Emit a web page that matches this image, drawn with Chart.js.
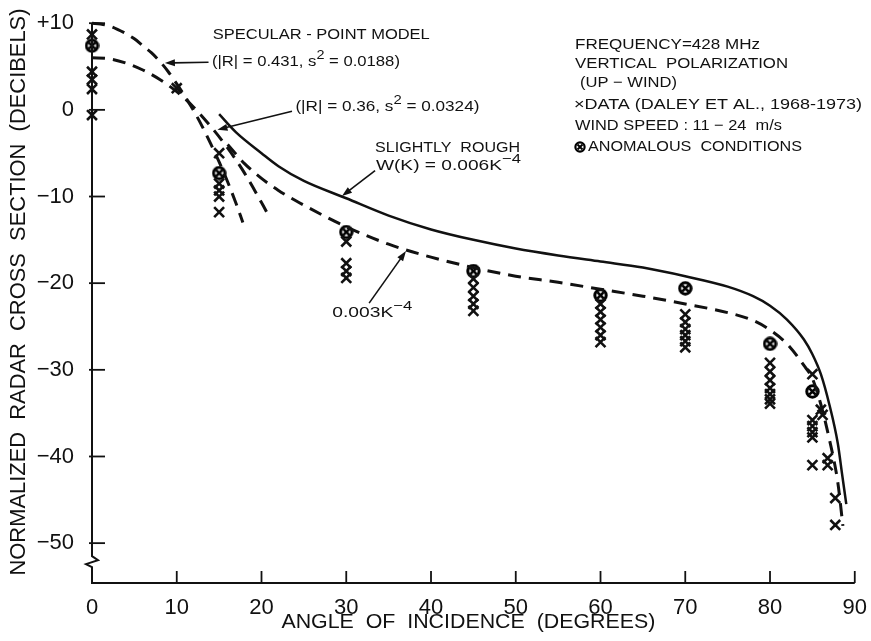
<!DOCTYPE html>
<html>
<head>
<meta charset="utf-8">
<script src="https://cdn.jsdelivr.net/npm/chart.js@4.4.1/dist/chart.umd.min.js"></script>
<style>
  html, body { margin: 0; padding: 0; background: #fff; }
  #wrap { width: 871px; height: 641px; position: relative; }
</style>
</head>
<body>
<div id="wrap"><canvas id="radarChart"></canvas></div>
<script>
const FONT = '"Liberation Sans", Arial, sans-serif';
const INK = '#111';

// tick labels
const xTicks = [0, 10, 20, 30, 40, 50, 60, 70, 80, 90];
const yTicks = [10, 0, -10, -20, -30, -40, -50];

// specular-point model, |R| = 0.431, s^2 = 0.0188
const specA_deg = [0, 1, 2, 3, 4, 5, 6, 7, 8, 9, 10, 11, 12, 13, 14, 15, 16, 17, 17.8];
const specA_db  = [10, 9.9, 9.7, 9.3, 8.8, 8.2, 7.4, 6.6, 5.6, 4.4, 3.0, 1.5, -0.1, -1.9, -3.9, -6.0, -8.3, -10.8, -13.0];

// specular-point model, |R| = 0.36, s^2 = 0.0324
const specB_deg = [0, 2, 4, 6, 8, 10, 12, 14, 16, 18, 20, 21];
const specB_db  = [6.0, 5.9, 5.4, 4.6, 3.5, 2.1, 0.3, -1.9, -4.4, -7.3, -10.7, -12.5];

// slightly rough, W(K) = 0.006 K^-4 (solid)
const rough6_deg = [15, 17, 20, 22, 25, 30, 35, 40, 45, 50, 55, 60, 65, 70, 75, 78, 80, 82, 84, 85, 86, 87, 88, 88.5, 89];
const rough6_db  = [-0.5, -2.6, -5.0, -6.5, -8.2, -10.2, -12.2, -13.8, -15.0, -16.0, -16.8, -17.5, -18.2, -19.2, -20.4, -21.5, -22.6, -24.2, -26.5, -28.2, -30.5, -34.0, -38.5, -42.0, -45.5];

// 0.003 K^-4 (dashed)
const rough3_deg = [16, 18, 20, 22, 25, 30, 35, 40, 45, 50, 55, 60, 65, 70, 75, 78, 80, 82, 84, 85, 86, 87, 88, 88.6];
const rough3_db  = [-4.0, -6.2, -7.9, -9.3, -11.0, -13.5, -15.5, -17.0, -18.2, -19.2, -19.9, -20.7, -21.5, -22.4, -23.4, -24.3, -25.4, -27.0, -29.5, -31.0, -34.0, -38.0, -43.0, -48.0];

// measured data (Daley et al., 1968-1973)
const data_deg = [0, 0, 0, 0, 0, 10, 15, 15, 15, 15, 15, 30, 30, 30, 30,
  45, 45, 45, 45, 45, 60, 60, 60, 60, 60, 60, 70, 70, 70, 70, 70, 70,
  80, 80, 80, 80, 80, 80, 80, 85, 85, 85, 85, 85, 85, 86, 86.2, 86.8, 86.8, 87.7, 87.7];
const data_db = [8.7, 4.4, 3.5, 2.4, -0.6, 2.5, -5.0, -8.5, -9.3, -10.0, -11.8, -15.2, -17.7, -18.6, -19.4,
  -19.5, -20.5, -21.5, -22.4, -23.2, -22.4, -23.3, -24.2, -25.1, -26.0, -26.8, -23.6, -24.5, -25.3, -26.0, -26.7, -27.4,
  -29.2, -30.2, -31.2, -32.1, -32.8, -33.4, -33.9, -30.5, -35.8, -36.5, -37.2, -37.8, -41.0, -34.6, -35.2, -40.2, -41.0, -44.8, -47.9];

// anomalous conditions
const anom_deg = [0, 15, 30, 45, 60, 70, 80, 85];
const anom_db  = [7.4, -7.3, -14.1, -18.6, -21.4, -20.6, -27.0, -32.5];

const pts = (xs, ys) => xs.map((x, i) => ({ x, y: ys[i] }));

// circle-with-cross marker
function makeAnomIcon(size, lw) {
  const c = document.createElement('canvas');
  c.width = size; c.height = size;
  const g = c.getContext('2d');
  const m = size / 2, r = size / 2 - lw / 2 - 0.3;
  g.strokeStyle = '#000'; g.lineWidth = lw;
  g.beginPath(); g.arc(m, m, r, 0, Math.PI * 2); g.stroke();
  const d = r * 0.55;
  g.lineWidth = lw * 0.9;
  g.beginPath();
  g.moveTo(m - d, m - d); g.lineTo(m + d, m + d);
  g.moveTo(m + d, m - d); g.lineTo(m - d, m + d);
  g.stroke();
  return c;
}
const anomIcon = makeAnomIcon(15, 3);
const anomSmall = makeAnomIcon(12, 2.2);

function curve(label, xs, ys, dashed, width) {
  return {
    type: 'line', label, data: pts(xs, ys),
    borderColor: INK, borderWidth: width, borderDash: dashed ? [13, 8] : [],
    pointRadius: 0, fill: false, cubicInterpolationMode: 'monotone', clip: false
  };
}

// rich text: parts starting with '^' are superscripts; squeezed to width if given
function drawRich(ctx, parts, x, y, size, width, align) {
  const pieces = parts.map(p => p.startsWith('^')
    ? { t: p.slice(1), f: Math.round(size * 0.85), dy: -size * 0.42 }
    : { t: p, f: size, dy: 0 });
  let total = 0;
  pieces.forEach(p => { ctx.font = p.f + 'px ' + FONT; p.w = ctx.measureText(p.t).width; total += p.w; });
  const k = width ? width / total : 1;
  ctx.save();
  ctx.translate(x, y);
  ctx.scale(k, 1);
  let cx = align === 'center' ? -total / 2 : 0;
  ctx.fillStyle = INK;
  ctx.textBaseline = 'middle';
  ctx.textAlign = 'left';
  pieces.forEach(p => { ctx.font = p.f + 'px ' + FONT; ctx.fillText(p.t, cx, p.dy); cx += p.w; });
  ctx.restore();
}

function arrow(ctx, x1, y1, x2, y2) {
  const a = Math.atan2(y2 - y1, x2 - x1), L = 10, W = 3.5;
  ctx.save();
  ctx.strokeStyle = INK; ctx.fillStyle = INK; ctx.lineWidth = 1.6;
  ctx.beginPath(); ctx.moveTo(x1, y1); ctx.lineTo(x2 - L * 0.8 * Math.cos(a), y2 - L * 0.8 * Math.sin(a)); ctx.stroke();
  ctx.beginPath();
  ctx.moveTo(x2, y2);
  ctx.lineTo(x2 - L * Math.cos(a) + W * Math.sin(a), y2 - L * Math.sin(a) - W * Math.cos(a));
  ctx.lineTo(x2 - L * Math.cos(a) - W * Math.sin(a), y2 - L * Math.sin(a) + W * Math.cos(a));
  ctx.closePath(); ctx.fill();
  ctx.restore();
}

// annotations in data units
const notes = [
  { parts: ['SPECULAR - POINT MODEL'], x: 14.25, y: 8.6, w: 217 },
  { parts: ['(|R| = 0.431, s', '^2', ' = 0.0188)'], x: 14.15, y: 5.5, w: 188 },
  { parts: ['(|R| = 0.36, s', '^2', ' = 0.0324)'], x: 24.0, y: 0.35, w: 184 },
  { parts: ['SLIGHTLY  ROUGH'], x: 33.4, y: -4.4, w: 145 },
  { parts: ['W(K) = 0.006K', '^\u22124'], x: 33.5, y: -6.5, w: 145 },
  { parts: ['0.003K', '^\u22124'], x: 28.35, y: -23.4, w: 80 }
];
const arrows = [
  [13.75, 5.5, 8.6, 5.4],
  [23.6, -0.15, 14.8, -2.3],
  [33.4, -7.0, 29.5, -9.95],
  [32.7, -22.3, 37.05, -16.3]
];
const legendLines = [
  { parts: ['FREQUENCY=428 MHz'], x: 575, y: 45, w: 185 },
  { parts: ['VERTICAL  POLARIZATION'], x: 575, y: 64, w: 213 },
  { parts: ['(UP \u2212 WIND)'], x: 580, y: 83, w: 97 },
  { parts: ['\u00d7DATA (DALEY ET AL., 1968-1973)'], x: 574, y: 105, w: 288 },
  { parts: ['WIND SPEED : 11 \u2212 24  m/s'], x: 575, y: 126, w: 207 },
  { parts: ['ANOMALOUS  CONDITIONS'], x: 588, y: 147, w: 214 }
];

const framePlugin = {
  id: 'frame',
  afterDatasetsDraw(chart) {
    const { ctx, scales: { x, y }, chartArea: a } = chart;
    ctx.save();
    ctx.strokeStyle = INK;
    ctx.lineWidth = 2;
    // y axis with break
    const yb = y.getPixelForValue(-51.5);
    ctx.beginPath();
    ctx.moveTo(a.left, a.top);
    ctx.lineTo(a.left, yb);
    ctx.lineTo(a.left + 6, yb + 4);
    ctx.lineTo(a.left - 6, yb + 8);
    ctx.lineTo(a.left, yb + 11);
    ctx.lineTo(a.left, a.bottom);
    ctx.lineTo(a.right, a.bottom);
    ctx.stroke();
    // inward tick marks
    ctx.lineWidth = 1.8;
    yTicks.forEach(v => {
      const py = y.getPixelForValue(v);
      ctx.beginPath(); ctx.moveTo(a.left - 3, py); ctx.lineTo(a.left + 13, py); ctx.stroke();
    });
    xTicks.forEach(v => {
      if (v === 0) return;
      const px = x.getPixelForValue(v);
      ctx.beginPath(); ctx.moveTo(px, a.bottom); ctx.lineTo(px, a.bottom - 12); ctx.stroke();
    });
    ctx.restore();

    notes.forEach(n => drawRich(ctx, n.parts, x.getPixelForValue(n.x), y.getPixelForValue(n.y), 15, n.w));
    arrows.forEach(r => arrow(ctx, x.getPixelForValue(r[0]), y.getPixelForValue(r[1]),
      x.getPixelForValue(r[2]), y.getPixelForValue(r[3])));
    legendLines.forEach(n => drawRich(ctx, n.parts, n.x, n.y, 15, n.w));
    ctx.drawImage(anomSmall, 574, 141);

    // axis titles
    drawRich(ctx, ['ANGLE  OF  INCIDENCE  (DEGREES)'], (a.left + a.right) / 2 - 5, 622, 21, 374, 'center');
    ctx.save();
    ctx.translate(19, 292);
    ctx.rotate(-Math.PI / 2);
    drawRich(ctx, ['NORMALIZED  RADAR  CROSS  SECTION  (DECIBELS)'], 0, 0, 22, 567, 'center');
    ctx.restore();
  }
};

new Chart(document.getElementById('radarChart'), {
  type: 'scatter',
  data: {
    datasets: [
      curve('specular 0.431', specA_deg, specA_db, true, 3),
      curve('specular 0.36', specB_deg, specB_db, true, 3),
      curve('W(K)=0.006K^-4', rough6_deg, rough6_db, false, 2.5),
      curve('0.003K^-4', rough3_deg, rough3_db, true, 3),
      {
        label: 'data', data: pts(data_deg, data_db), pointStyle: 'crossRot',
        pointRadius: 7, pointBorderWidth: 2.6, borderColor: INK, backgroundColor: INK, clip: false
      },
      {
        label: 'anomalous', data: pts(anom_deg, anom_db), pointStyle: anomIcon,
        pointRadius: 7, clip: false
      }
    ]
  },
  options: {
    responsive: true,
    maintainAspectRatio: false,
    animation: false,
    layout: { padding: { top: 23, right: 14, left: 0, bottom: 0 } },
    plugins: { legend: { display: false }, tooltip: { enabled: false } },
    scales: {
      x: {
        type: 'linear', min: 0, max: 90,
        afterBuildTicks: s => { s.ticks = xTicks.map(v => ({ value: v })); },
        afterFit: s => { s.height = 58; },
        grid: { display: false }, border: { display: false },
        ticks: { color: INK, padding: 4, font: { family: FONT, size: 22 }, maxRotation: 0 }
      },
      y: {
        type: 'linear', min: -54.6, max: 10,
        afterBuildTicks: s => { s.ticks = yTicks.map(v => ({ value: v })); },
        afterFit: s => { s.width = 92; },
        grid: { display: false }, border: { display: false },
        ticks: {
          color: INK, padding: 10, font: { family: FONT, size: 22 },
          callback: v => v > 0 ? '+' + v : (v < 0 ? '\u2212' + Math.abs(v) : '0')
        }
      }
    }
  },
  plugins: [framePlugin]
});
</script>
</body>
</html>
